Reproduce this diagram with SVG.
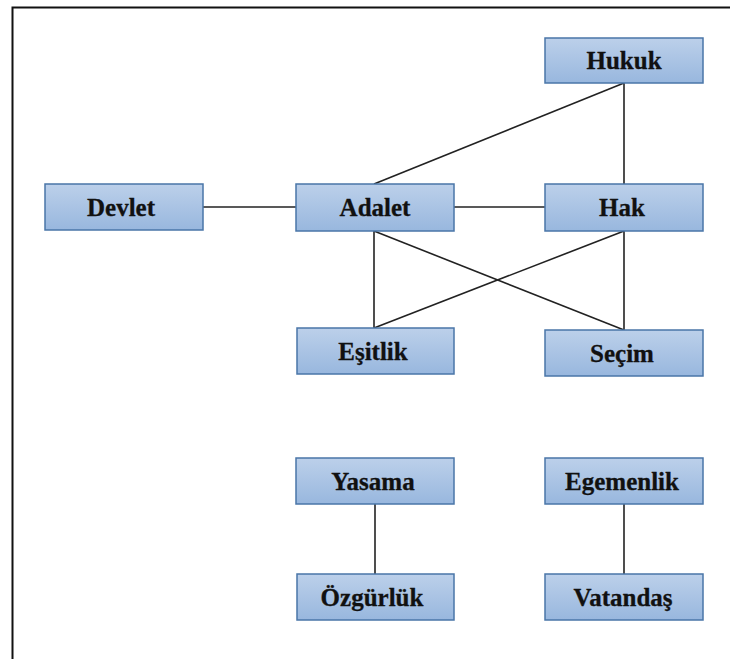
<svg xmlns="http://www.w3.org/2000/svg" width="730" height="659" viewBox="0 0 730 659">
<style>
.box{fill:url(#g);stroke:#4a76a8;stroke-width:1.5}
.lbl{font-family:"Liberation Serif","Times New Roman",serif;font-weight:bold;font-size:25px;fill:#111;text-anchor:middle;dominant-baseline:central;stroke:#111;stroke-width:0.3}
.c{stroke:#222;stroke-width:1.6;fill:none}
</style>
<defs>
<linearGradient id="g" x1="0" y1="0" x2="0" y2="1">
<stop offset="0" stop-color="#bcd0ea"/>
<stop offset="1" stop-color="#98b7de"/>
</linearGradient>
</defs>
<rect width="730" height="659" fill="#fff"/>
<path d="M12.5 659 V7.5 H730" fill="none" stroke="#111" stroke-width="2"/>
<g id="connectors">
<line class="c" x1="203" y1="207" x2="296" y2="207"/>
<line class="c" x1="454" y1="207" x2="545" y2="207"/>
<line class="c" x1="624" y1="83" x2="374" y2="184"/>
<line class="c" x1="624" y1="83" x2="624" y2="184"/>
<line class="c" x1="374" y1="231" x2="374" y2="328"/>
<line class="c" x1="374" y1="231" x2="624" y2="330"/>
<line class="c" x1="624" y1="231" x2="374" y2="328"/>
<line class="c" x1="624" y1="231" x2="624" y2="330"/>
<line class="c" x1="375" y1="504" x2="375" y2="574"/>
<line class="c" x1="624" y1="504" x2="624" y2="574"/>
</g>
<g id="hukuk"><rect class="box" x="545" y="38" width="158" height="45"/><text class="lbl" x="624" y="60.5">Hukuk</text></g>
<g id="devlet"><rect class="box" x="45" y="184" width="158" height="46"/><text class="lbl" x="121" y="207">Devlet</text></g>
<g id="adalet"><rect class="box" x="296" y="184" width="158" height="47"/><text class="lbl" x="375" y="207.5">Adalet</text></g>
<g id="hak"><rect class="box" x="545" y="184" width="158" height="47"/><text class="lbl" x="622" y="207.5">Hak</text></g>
<g id="esitlik"><rect class="box" x="297" y="328" width="157" height="46"/><text class="lbl" x="373" y="351">Eşitlik</text></g>
<g id="secim"><rect class="box" x="545" y="330" width="158" height="46"/><text class="lbl" x="622" y="353">Seçim</text></g>
<g id="yasama"><rect class="box" x="296" y="458" width="158" height="46"/><text class="lbl" x="373" y="481">Yasama</text></g>
<g id="egemenlik"><rect class="box" x="545" y="458" width="158" height="46"/><text class="lbl" x="622" y="481">Egemenlik</text></g>
<g id="ozgurluk"><rect class="box" x="297" y="574" width="157" height="46"/><text class="lbl" x="372" y="597">Özgürlük</text></g>
<g id="vatandas"><rect class="box" x="545" y="574" width="158" height="46"/><text class="lbl" x="623" y="597">Vatandaş</text></g>
</svg>
